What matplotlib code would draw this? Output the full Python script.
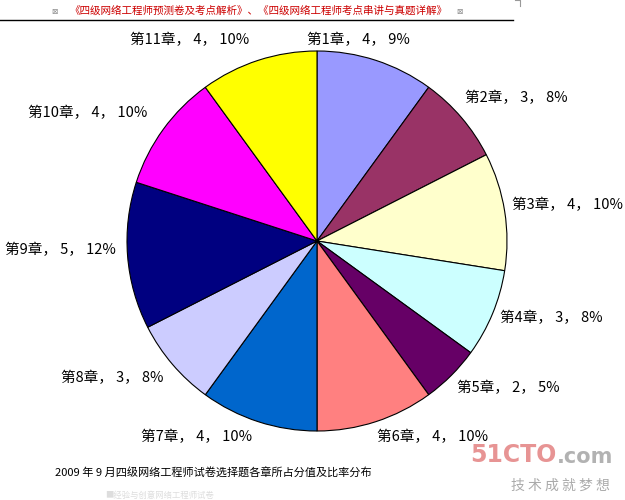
import matplotlib.pyplot as plt

plt.rcParams['font.family'] = ['Noto Sans CJK SC', 'DejaVu Sans']

# données : chapitres, nombre de questions, pourcentages affichés
chapters = ["第1章", "第2章", "第3章", "第4章", "第5章", "第6章",
            "第7章", "第8章", "第9章", "第10章", "第11章"]
scores = [4, 3, 4, 3, 2, 4, 4, 3, 5, 4, 4]
percents = ["9%", "8%", "10%", "8%", "5%", "10%", "10%", "8%", "12%", "10%", "10%"]
colors = ['#9999FF', '#993366', '#FFFFCC', '#CCFFFF', '#660066', '#FF8080',
          '#0066CC', '#CCCCFF', '#000080', '#FF00FF', '#FFFF00']

# position (pixels) du centre de chaque étiquette
label_px = [(358, 40), (516, 98), (567, 205), (551, 318), (508, 388), (433, 437),
            (197, 437), (112, 378), (60, 250), (88, 113), (190, 40)]

W, H = 625, 500
fig = plt.figure(figsize=(W / 100, H / 100), dpi=100)
fig.patch.set_facecolor('white')

cx, cy, r = 317, 241, 190
ax = fig.add_axes([(cx - r) / W, (H - cy - r) / H, 2 * r / W, 2 * r / H])
ax.pie(scores, colors=colors, startangle=90, counterclock=False, radius=1,
       wedgeprops={'edgecolor': 'black', 'linewidth': 0.8})
ax.set_xlim(-1, 1)
ax.set_ylim(-1, 1)
ax.set_aspect('auto')
ax.axis('off')

for name, val, pct, (px, py) in zip(chapters, scores, percents, label_px):
    fig.text(px / W, 1 - py / H, f"{name}， {val}， {pct}", ha='center', va='center',
             fontsize=10.5, color='black')

# en-tête rouge
fig.text(258 / W, 1 - 11 / H, "《四级网络工程师预测卷及考点解析》、《四级网络工程师考点串讲与真题详解》",
         ha='center', va='center', fontsize=7.6, color='#CC0000')
for x in (54, 459):
    fig.text(x / W, 1 - 11 / H, "⊠", ha='center', va='center', fontsize=5.5, color='#888888',
             family=['DejaVu Sans'])
fig.add_artist(plt.Line2D([0, 513 / W], [1 - 20 / H, 1 - 20 / H], color='black', lw=1))
fig.add_artist(plt.Line2D([515 / W, 520 / W, 520 / W], [1 - 0 / H, 1 - 0 / H, 1 - 6 / H],
                          color='#999999', lw=0.8))

# légende du bas
fig.text(213 / W, 1 - 473 / H, "2009 年 9 月四级网络工程师试卷选择题各章所占分值及比率分布",
         ha='center', va='center', fontsize=8, color='black')

# filigrane
fig.text(557 / W, 1 - 455 / H, "51CTO", ha='right', va='center', fontsize=17,
         fontweight='bold', color='#E07070', alpha=0.75, family=['DejaVu Sans'])
fig.text(557 / W, 1 - 457 / H, ".com", ha='left', va='center', fontsize=15,
         fontweight='bold', color='#999999', alpha=0.75, family=['DejaVu Sans'])
fig.text(560 / W, 1 - 486 / H, "技 术 成 就 梦 想", ha='center', va='center',
         fontsize=10, color='#aaaaaa')
fig.text(160 / W, 1 - 495 / H, "■经验与创意网络工程师试卷", ha='center', va='center',
         fontsize=6, color='#dddddd')

plt.savefig("out.png", dpi=100)
